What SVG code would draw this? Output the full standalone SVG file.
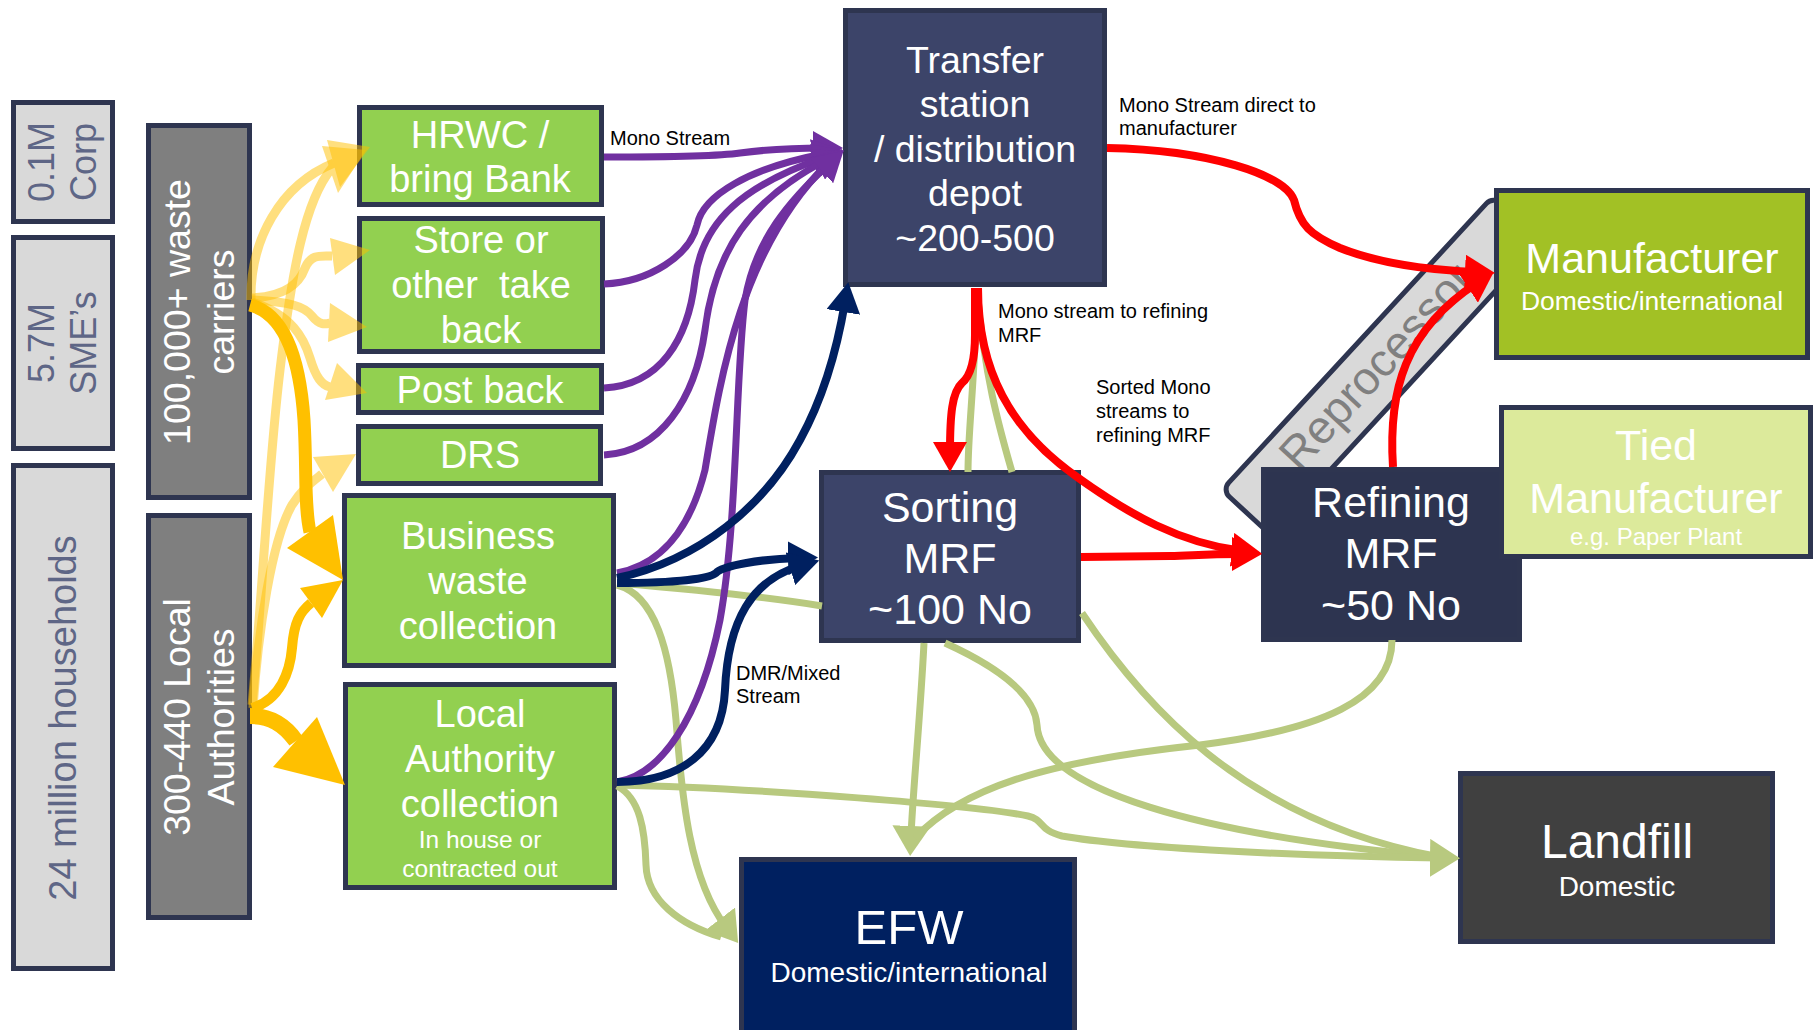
<svg xmlns="http://www.w3.org/2000/svg" width="1816" height="1030" viewBox="0 0 1816 1030">
<style>
.bx{stroke:#2E3550;stroke-width:5}
.t{font-family:"Liberation Sans",Arial,sans-serif;text-anchor:middle}
.wt{fill:#fff}
.gt{fill:#5E6686}
.lb{font-family:"Liberation Sans",Arial,sans-serif;font-size:20px;fill:#000}
.c{fill:none}
.pu{stroke:#7030A0;stroke-width:7}
.nv{stroke:#002060;stroke-width:8}
.rd{stroke:#FF0000;stroke-width:8}
.gr{stroke:#B8C97F;stroke-width:7}
.yl{stroke:#FFC000}
.yf{fill:#FFC000}
</style>
<defs>
<marker id="mP" viewBox="0 0 30 34" refX="10" refY="17" markerWidth="30" markerHeight="34" orient="auto" markerUnits="userSpaceOnUse"><path d="M0,0L30,17L0,34z" fill="#7030A0"/></marker>
<marker id="mN" viewBox="0 0 30 34" refX="10" refY="17" markerWidth="30" markerHeight="34" orient="auto" markerUnits="userSpaceOnUse"><path d="M0,0L30,17L0,34z" fill="#002060"/></marker>
<marker id="mR" viewBox="0 0 30 34" refX="10" refY="17" markerWidth="30" markerHeight="34" orient="auto" markerUnits="userSpaceOnUse"><path d="M0,0L30,17L0,34z" fill="#FF0000"/></marker>
<marker id="mG" viewBox="0 0 30 38" refX="10" refY="19" markerWidth="30" markerHeight="38" orient="auto" markerUnits="userSpaceOnUse"><path d="M0,0L30,19L0,38z" fill="#B8C97F"/></marker>
</defs>
<rect width="1816" height="1030" fill="#fff"/>

<g id="reprocessor">
<rect x="0" y="0" width="400" height="66" rx="10" fill="#D9D9D9" class="bx" transform="translate(1222,490) rotate(-47.3)"/>
<text class="t" x="0" y="0" font-size="46" fill="#808080" style="text-anchor:start" transform="translate(1222,490) rotate(-47.3) translate(65,45)">Reprocessor</text>
</g>

<g id="corp">
<rect x="13.5" y="102.5" width="99" height="119" fill="#D9D9D9" class="bx"/>
<text class="t gt" font-size="36" transform="translate(63,162) rotate(-90)"><tspan x="0" y="-9">0.1M</tspan><tspan x="0" y="33">Corp</tspan></text>
</g>
<g id="smes">
<rect x="13.5" y="237.5" width="99" height="211" fill="#D9D9D9" class="bx"/>
<text class="t gt" font-size="36" transform="translate(63,343) rotate(-90)"><tspan x="0" y="-9">5.7M</tspan><tspan x="0" y="33">SME’s</tspan></text>
</g>
<g id="households">
<rect x="13.5" y="465.5" width="99" height="503" fill="#D9D9D9" class="bx"/>
<text class="t gt" font-size="38" transform="translate(63,718) rotate(-90)" y="13">24 million households</text>
</g>
<g id="carriers">
<rect x="148.5" y="125.5" width="101" height="372" fill="#7F7F7F" class="bx"/>
<text class="t wt" font-size="37.5" transform="translate(199,312) rotate(-90)"><tspan x="0" y="-9">100,000+ waste</tspan><tspan x="0" y="35">carriers</tspan></text>
</g>
<g id="local-authorities">
<rect x="148.5" y="515.5" width="101" height="402" fill="#7F7F7F" class="bx"/>
<text class="t wt" font-size="37.5" transform="translate(199,717) rotate(-90)"><tspan x="0" y="-9">300-440 Local</tspan><tspan x="0" y="35">Authorities</tspan></text>
</g>

<g id="hrwc">
<rect x="359.5" y="107.5" width="242" height="97" fill="#92D050" class="bx"/>
<text class="t wt" font-size="38"><tspan x="480" y="148">HRWC /</tspan><tspan x="480" y="192">bring Bank</tspan></text>
</g>
<g id="store">
<rect x="359.5" y="218.5" width="243" height="133" fill="#92D050" class="bx"/>
<text class="t wt" font-size="38" style="white-space:pre"><tspan x="481" y="253">Store or</tspan><tspan x="481" y="298">other  take</tspan><tspan x="481" y="343">back</tspan></text>
</g>
<g id="postback">
<rect x="358.5" y="365.5" width="243" height="47" fill="#92D050" class="bx"/>
<text class="t wt" font-size="38" x="480" y="403">Post back</text>
</g>
<g id="drs">
<rect x="358.5" y="426.5" width="242" height="57" fill="#92D050" class="bx"/>
<text class="t wt" font-size="38" x="480" y="468">DRS</text>
</g>
<g id="business">
<rect x="344.5" y="495.5" width="269" height="170" fill="#92D050" class="bx"/>
<text class="t wt" font-size="38"><tspan x="478" y="549">Business</tspan><tspan x="478" y="594">waste</tspan><tspan x="478" y="639">collection</tspan></text>
</g>
<g id="la-collection">
<rect x="345.5" y="684.5" width="269" height="203" fill="#92D050" class="bx"/>
<text class="t wt" font-size="38"><tspan x="480" y="727">Local</tspan><tspan x="480" y="772">Authority</tspan><tspan x="480" y="817">collection</tspan></text>
<text class="t wt" font-size="24.5"><tspan x="480" y="848">In house or</tspan><tspan x="480" y="877">contracted out</tspan></text>
</g>

<g id="transfer">
<rect x="845.5" y="10.5" width="259" height="274" fill="#3C4469" class="bx"/>
<text class="t wt" font-size="37.5"><tspan x="975" y="73">Transfer</tspan><tspan x="975" y="117">station</tspan><tspan x="975" y="162">/ distribution</tspan><tspan x="975" y="206">depot</tspan><tspan x="975" y="251">~200-500</tspan></text>
</g>
<g id="sorting">
<rect x="821.5" y="472.5" width="257" height="168" fill="#3C4469" class="bx"/>
<text class="t wt" font-size="43"><tspan x="950" y="522">Sorting</tspan><tspan x="950" y="573">MRF</tspan><tspan x="950" y="624">~100 No</tspan></text>
</g>
<g id="refining">
<rect x="1263.5" y="469.5" width="256" height="170" fill="#2D3450" class="bx"/>
<text class="t wt" font-size="43"><tspan x="1391" y="517">Refining</tspan><tspan x="1391" y="568">MRF</tspan><tspan x="1391" y="620">~50 No</tspan></text>
</g>
<g id="manufacturer">
<rect x="1496.5" y="190.5" width="311" height="167" fill="#A2C125" class="bx"/>
<text class="t wt" font-size="43" x="1652" y="273">Manufacturer</text>
<text class="t wt" font-size="26.5" x="1652" y="310">Domestic/international</text>
</g>
<g id="tied">
<rect x="1501.5" y="407.5" width="309" height="149" fill="#DCEA9B" class="bx"/>
<text class="t wt" font-size="43"><tspan x="1656" y="460">Tied</tspan><tspan x="1656" y="513">Manufacturer</tspan></text>
<text class="t wt" font-size="24" x="1656" y="545">e.g. Paper Plant</text>
</g>
<g id="landfill">
<rect x="1460.5" y="773.5" width="312" height="168" fill="#404040" class="bx"/>
<text class="t wt" font-size="48" x="1617" y="858">Landfill</text>
<text class="t wt" font-size="28" x="1617" y="896">Domestic</text>
</g>
<g id="efw">
<rect x="741.5" y="859.5" width="333" height="180" fill="#002060" class="bx"/>
<text class="t wt" font-size="49" x="909" y="944">EFW</text>
<text class="t wt" font-size="28" x="909" y="982">Domestic/international</text>
</g>

<g id="connectors" class="c">
<!-- light green -->
<path class="gr" d="M617,583 C700,590 760,596 822,606"/>
<path class="gr" d="M977,290 C975,380 968,430 968,472"/>
<path class="gr" d="M977,290 C985,380 1000,430 1012,472"/>
<path class="gr" d="M617,585 C655,595 670,650 676,720 C682,800 690,880 726,927" marker-end="url(#mG)"/>
<path class="gr" d="M617,786 C640,798 645,830 646,865 C647,900 680,925 721,937"/>
<path class="gr" d="M924,643 C920,720 913,790 911,836" marker-end="url(#mG)"/>
<path class="gr" d="M1392,640 C1392,700 1320,730 1200,745 C1040,762 960,790 915,838"/>
<path class="gr" d="M945,643 C1000,668 1035,695 1037,725 C1040,790 1200,835 1440,857"/>
<path class="gr" d="M1082,613 C1140,700 1240,820 1440,857"/>
<path class="gr" d="M617,785 C760,788 980,806 1028,816 C1045,820 1038,830 1062,836 C1130,848 1300,856 1440,858" marker-end="url(#mG)"/>
<!-- purple -->
<path class="pu" d="M604,157 C680,157 720,156 740,153 C770,149 800,148 823,148" marker-end="url(#mP)"/>
<path class="pu" d="M604,284 C650,282 690,255 697,225 C703,195 750,168 823,154" marker-end="url(#mP)"/>
<path class="pu" d="M604,388 C660,385 688,340 695,280 C702,220 745,185 825,157" marker-end="url(#mP)"/>
<path class="pu" d="M604,455 C660,452 695,400 705,330 C715,250 750,200 826,160" marker-end="url(#mP)"/>
<path class="pu" d="M617,573 C660,565 690,530 705,470 C720,380 740,250 828,163" marker-end="url(#mP)"/>
<path class="pu" d="M617,782 C660,775 700,720 720,620 C738,520 735,380 745,300 C755,240 790,200 829,164" marker-end="url(#mP)"/>
<!-- navy -->
<path class="nv" d="M617,578 C700,560 765,505 800,440 C822,400 837,350 845,302" marker-end="url(#mN)"/>
<path class="nv" d="M617,583 C680,583 710,578 716,573 C722,566 760,559 798,558" marker-end="url(#mN)"/>
<path class="nv" d="M617,782 C680,782 722,752 725,690 C728,620 752,580 800,566" marker-end="url(#mN)"/>
<!-- red -->
<path class="rd" d="M1107,148 C1210,150 1285,175 1294,200 C1300,225 1310,235 1340,248 C1380,264 1430,270 1475,272" marker-end="url(#mR)"/>
<path class="rd" d="M975,288 L975,335 C975,365 968,378 962,383 C952,392 950,415 950,452" marker-end="url(#mR)"/>
<path class="rd" d="M978,288 C978,370 1010,430 1077,477 C1130,515 1180,543 1242,551" marker-end="url(#mR)"/>
<path class="rd" d="M1081,557 L1170,556 C1190,556 1200,554 1242,554" marker-end="url(#mR)"/>
<path class="rd" d="M1393,467 C1388,390 1405,330 1477,283" marker-end="url(#mR)"/>
<!-- light yellow -->
<g opacity="0.5"><path class="yl" stroke-width="9" d="M251,300 C250,240 280,185 334,163"/><polygon class="yf" points="327,140 370,147 340,187"/></g>
<g opacity="0.5"><path class="yl" stroke-width="9" d="M252,705 C262,600 268,470 280,370 C292,270 305,200 332,168"/><polygon class="yf" points="322,146 366,150 338,193"/></g>
<g opacity="0.5"><path class="yl" stroke-width="9" d="M252,298 C288,296 300,282 305,268 C311,254 320,256 332,256"/><polygon class="yf" points="330,238 370,250 335,275"/></g>
<g opacity="0.5"><path class="yl" stroke-width="9" d="M252,300 C290,302 304,306 312,316 C320,326 326,324 330,323"/><polygon class="yf" points="330,303 367,327 328,342"/></g>
<g opacity="0.5"><path class="yl" stroke-width="9" d="M252,302 C292,315 304,338 310,358 C316,378 322,385 330,387"/><polygon class="yf" points="337,363 367,393 325,400"/></g>
<g opacity="0.5"><path class="yl" stroke-width="9" d="M253,708 C258,630 272,540 292,505 C303,488 312,482 322,474"/><polygon class="yf" points="313,457 356,454 333,492"/></g>
<!-- bold yellow -->
<path class="yl" stroke-width="13" d="M250,305 C285,314 300,360 304,420 C307,470 304,505 310,532"/>
<polygon class="yf" points="287,548 343,580 333,515"/>
<path class="yl" stroke-width="10" d="M252,708 C280,700 290,672 292,648 C294,622 300,612 311,603"/>
<polygon class="yf" points="300,588 343,580 322,618"/>
<path class="yl" stroke-width="16" d="M250,716 C270,716 284,724 296,741"/>
<polygon class="yf" points="273,767 345,785 317,717"/>
</g>

<g id="labels">
<text class="lb" x="610" y="145">Mono Stream</text>
<text class="lb"><tspan x="736" y="680">DMR/Mixed</tspan><tspan x="736" y="703">Stream</tspan></text>
<text class="lb"><tspan x="1119" y="112">Mono Stream direct to</tspan><tspan x="1119" y="135">manufacturer</tspan></text>
<text class="lb"><tspan x="998" y="318">Mono stream to refining</tspan><tspan x="998" y="342">MRF</tspan></text>
<text class="lb"><tspan x="1096" y="394">Sorted Mono</tspan><tspan x="1096" y="418">streams to</tspan><tspan x="1096" y="442">refining MRF</tspan></text>
</g>
</svg>
